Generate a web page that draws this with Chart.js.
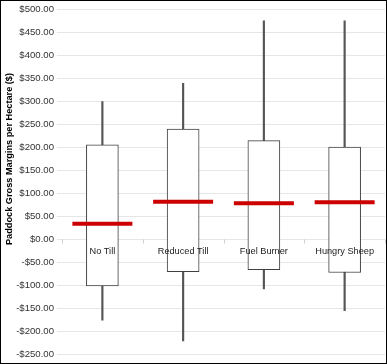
<!DOCTYPE html>
<html lang="en">
<head>
  <meta charset="UTF-8">
  <title>Paddock Gross Margins</title>
  <script src="https://cdn.jsdelivr.net/npm/chart.js"></script>
  <style>
    html, body { margin: 0; padding: 0; background: #fff; }
    #frame { width: 387px; height: 364px; box-sizing: border-box; border: 1px solid #000; }
  </style>
</head>
<body>
  <div id="frame"><canvas id="boxChart" width="385" height="362"></canvas></div>

  <script>
    // values
    const categories = ['No Till', 'Reduced Till', 'Fuel Burner', 'Hungry Sheep'];
    const minValues = [-176, -221, -108, -155];
    const q1Values = [-101, -70, -66, -72];
    const medianValues = [34, 82, 79, 81];
    const q3Values = [206, 240, 215, 201];
    const maxValues = [300, 340, 476, 476];

    const yMin = -250;
    const yMax = 500;
    const yStep = 50;
    const yTitle = 'Paddock Gross Margins per Hectare ($)';

    function money(v) {
      const s = '$' + Math.abs(v).toFixed(2);
      return v < 0 ? '-' + s : s;
    }

    // category labels sit just under the zero line, on top of the boxes
    const zeroAxisLabels = {
      id: 'zeroAxisLabels',
      afterDatasetsDraw(chart) {
        const x = chart.scales.x;
        const y = chart.scales.y;
        const c = chart.ctx;
        const y0 = y.getPixelForValue(0);
        const half = (x.getPixelForValue(1) - x.getPixelForValue(0)) / 2;
        c.save();
        c.strokeStyle = '#d0d0d0';
        c.lineWidth = 1;
        for (let i = 0; i <= categories.length; i++) {
          const px = Math.round(x.getPixelForValue(0) - half + i * 2 * half) + 0.5;
          c.beginPath();
          c.moveTo(px, y0);
          c.lineTo(px, y0 + 4);
          c.stroke();
        }
        c.fillStyle = '#222';
        c.font = '9.2px "Liberation Sans", Arial, sans-serif';
        c.textAlign = 'center';
        c.textBaseline = 'middle';
        categories.forEach((label, i) => {
          c.fillText(label, x.getPixelForValue(i), y0 + 12);
        });

        // rotated axis title, sits a bit above the middle like the original
        const area = chart.chartArea;
        c.fillStyle = '#000';
        c.font = 'bold 9.2px "Liberation Sans", Arial, sans-serif';
        c.translate(8, (area.top + area.bottom) / 2 - 23);
        c.rotate(-Math.PI / 2);
        c.fillText(yTitle, 0, 0);
        c.restore();
      }
    };

    const ctx = document.getElementById('boxChart').getContext('2d');

    new Chart(ctx, {
      type: 'bar',
      data: {
        labels: categories,
        datasets: [
          {
            type: 'line',
            label: 'Median',
            data: medianValues,
            showLine: false,
            pointStyle: 'line',
            pointRadius: 30,
            pointHoverRadius: 30,
            pointBorderWidth: 4,
            pointBorderColor: '#cc0000',
            borderColor: '#cc0000',
            clip: false,
            order: 0
          },
          {
            label: 'Box',
            data: categories.map((c, i) => [q1Values[i], q3Values[i]]),
            backgroundColor: '#ffffff',
            borderColor: '#404040',
            borderWidth: 1,
            borderSkipped: false,
            barThickness: 32,
            grouped: false,
            order: 1
          },
          {
            label: 'Whisker',
            data: categories.map((c, i) => [minValues[i], maxValues[i]]),
            backgroundColor: '#555555',
            borderWidth: 0,
            barThickness: 1.5,
            grouped: false,
            order: 2
          }
        ]
      },
      options: {
        responsive: false,
        animation: false,
        layout: { autoPadding: false, padding: { top: 5, bottom: 5, right: 1, left: 0 } },
        plugins: {
          legend: { display: false },
          tooltip: { enabled: false }
        },
        scales: {
          x: {
            type: 'category',
            display: false,
            offset: true
          },
          y: {
            min: yMin,
            max: yMax,
            afterFit: function(scale) { scale.width = 61; },
            grid: {
              color: '#e6e6e6',
              tickLength: 5
            },
            border: { display: false },
            ticks: {
              stepSize: yStep,
              padding: 3,
              font: { family: 'Liberation Sans, Arial, sans-serif', size: 9.6 },
              color: '#333',
              callback: v => money(v)
            }
          }
        }
      },
      plugins: [zeroAxisLabels]
    });
  </script>
</body>
</html>
